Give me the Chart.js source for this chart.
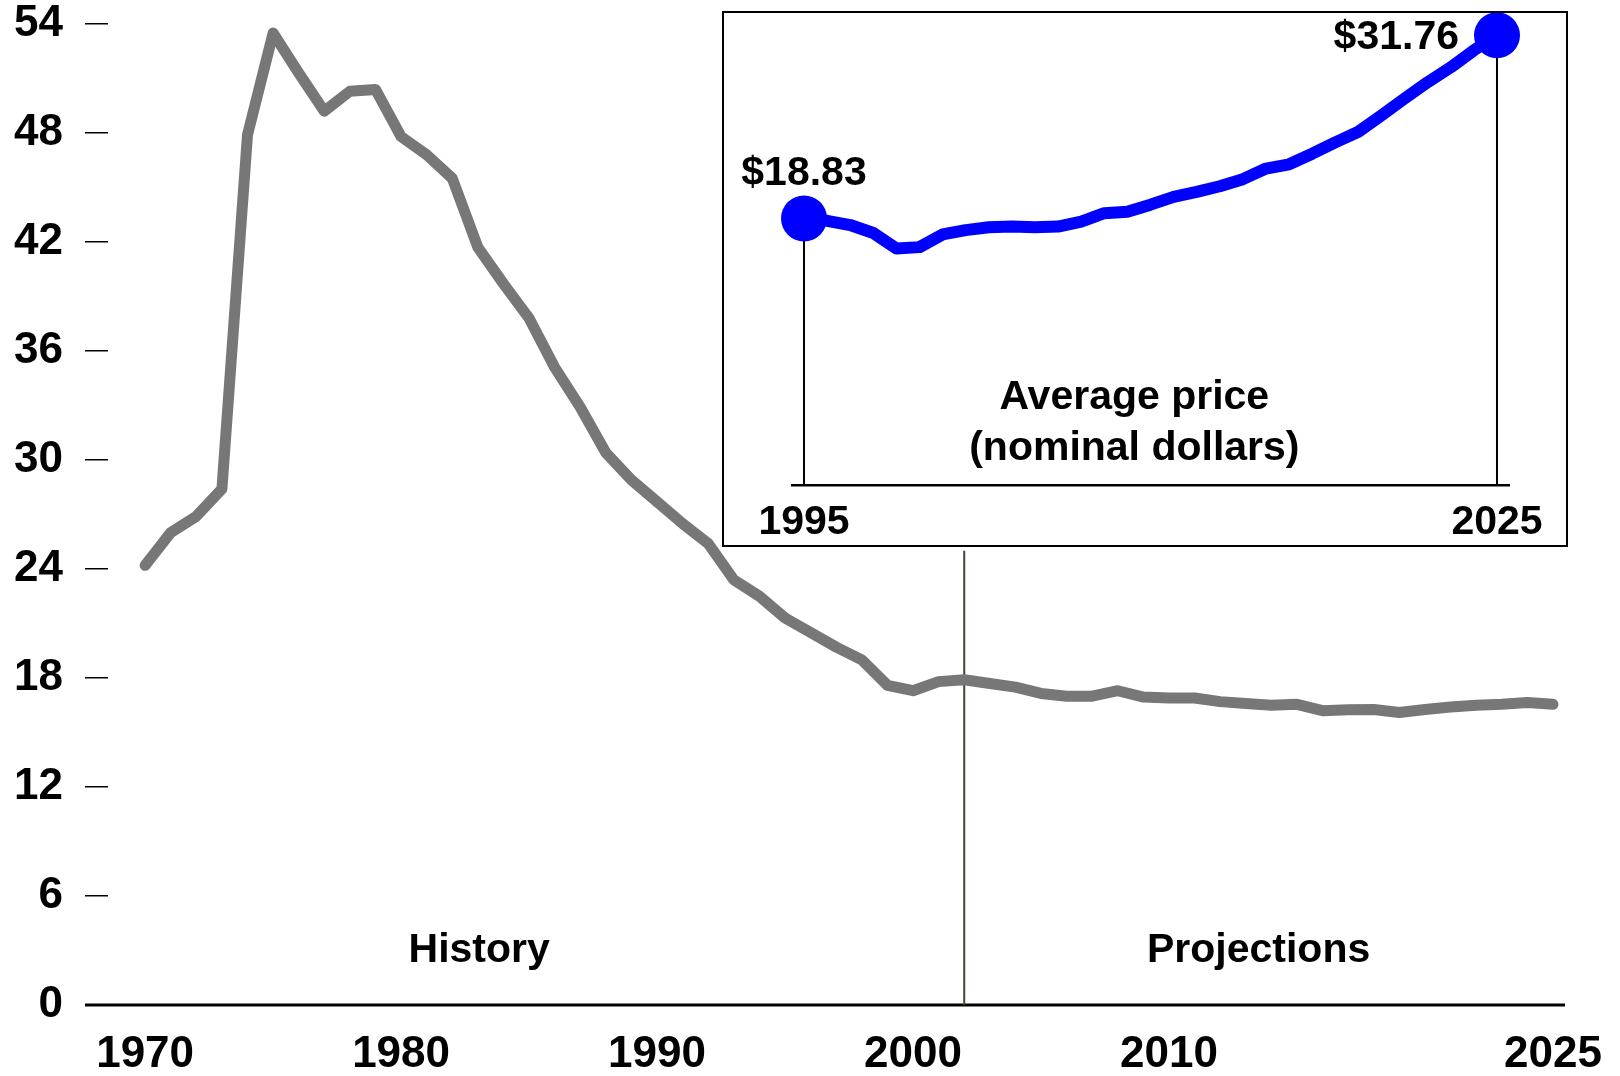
<!DOCTYPE html>
<html>
<head>
<meta charset="utf-8">
<script src="https://cdn.jsdelivr.net/npm/chart.js@4.4.1/dist/chart.umd.min.js"></script>
<style>
    html, body { margin: 0; padding: 0; background: #fff; }
    #wrap { position: relative; width: 1620px; height: 1076px; overflow: hidden; }
    #mainChart { position: absolute; left: 0; top: 0; }
    #insetBox { position: absolute; left: 722px; top: 11px; width: 842px; height: 532px; border: 2px solid #000; background: #fff; }
</style>
</head>
<body>
<div id="wrap">
    <canvas id="mainChart" width="1620" height="1076"></canvas>
    <div id="insetBox"><canvas id="insetChart" width="842" height="532"></canvas></div>
</div>
<script>
// main series: price in constant dollars, history + projections
const years = [1970, 1971, 1972, 1973, 1974, 1975, 1976, 1977, 1978, 1979,
    1980, 1981, 1982, 1983, 1984, 1985, 1986, 1987, 1988, 1989,
    1990, 1991, 1992, 1993, 1994, 1995, 1996, 1997, 1998, 1999,
    2000, 2001, 2002, 2003, 2004, 2005, 2006, 2007, 2008, 2009,
    2010, 2011, 2012, 2013, 2014, 2015, 2016, 2017, 2018, 2019,
    2020, 2021, 2022, 2023, 2024, 2025];
const realPrice = [24.2, 26.0, 26.9, 28.4, 47.9, 53.5, 51.3, 49.2, 50.3, 50.4,
    47.8, 46.8, 45.5, 41.7, 39.7, 37.8, 35.1, 32.9, 30.4, 28.9,
    27.7, 26.5, 25.4, 23.4, 22.5, 21.3, 20.5, 19.7, 19.0, 17.6,
    17.3, 17.8, 17.9, 17.7, 17.5, 17.15, 17.0, 17.0, 17.3, 16.95,
    16.9, 16.9, 16.7, 16.6, 16.5, 16.55, 16.2, 16.25, 16.27, 16.1,
    16.27, 16.4, 16.5, 16.55, 16.65, 16.55];

// inset series: average price in nominal dollars
const insetYears = [1995, 1996, 1997, 1998, 1999, 2000, 2001, 2002, 2003, 2004,
    2005, 2006, 2007, 2008, 2009, 2010, 2011, 2012, 2013, 2014,
    2015, 2016, 2017, 2018, 2019, 2020, 2021, 2022, 2023, 2024, 2025];
const nominalPrice = [18.83, 18.66, 18.36, 17.8, 16.7, 16.8, 17.7, 18.0, 18.2, 18.25,
    18.2, 18.25, 18.6, 19.2, 19.3, 19.8, 20.35, 20.7, 21.1, 21.6,
    22.35, 22.65, 23.4, 24.2, 24.95, 26.1, 27.3, 28.45, 29.5, 30.7, 31.76];

const yTicks = [0, 6, 12, 18, 24, 30, 36, 42, 48, 54];
const xTickYears = [1970, 1980, 1990, 2000, 2010, 2025];
const insetTickYears = [1995, 2025];
const splitYear = 2002;
const regionLabels = ['History', 'Projections'];
const insetTitle = ['Average price', '(nominal dollars)'];

const FONT = "'Liberation Sans', Arial, sans-serif";

function boldFont(size) {
    return `bold ${size}px ${FONT}`;
}

const mainDecor = {
    id: 'mainDecor',
    beforeDatasetsDraw(chart) {
        const { ctx, chartArea, scales } = chart;
        const x = scales.x, y = scales.y;
        const y0 = y.getPixelForValue(0);
        ctx.save();
        // baseline
        ctx.strokeStyle = '#000';
        ctx.lineWidth = 3;
        ctx.beginPath();
        ctx.moveTo(chartArea.left - 23, y0);
        ctx.lineTo(chartArea.right, y0);
        ctx.stroke();
        // history / projections divider
        const xs = x.getPixelForValue(splitYear);
        ctx.strokeStyle = '#3e4838';
        ctx.lineWidth = 2;
        ctx.beginPath();
        ctx.moveTo(xs, y.getPixelForValue(25));
        ctx.lineTo(xs, y0);
        ctx.stroke();
        ctx.restore();
    },
    afterDraw(chart) {
        const { ctx, scales } = chart;
        const x = scales.x, y = scales.y;
        ctx.save();
        ctx.fillStyle = '#000';
        ctx.font = boldFont(41);
        ctx.textAlign = 'center';
        ctx.textBaseline = 'middle';
        ctx.fillText(regionLabels[0], x.getPixelForValue(1983.05), y.getPixelForValue(3.0));
        ctx.fillText(regionLabels[1], x.getPixelForValue(2013.5), y.getPixelForValue(3.0));
        ctx.restore();
    }
};

new Chart(document.getElementById('mainChart').getContext('2d'), {
    type: 'line',
    data: {
        datasets: [{
            data: years.map((yr, i) => ({ x: yr, y: realPrice[i] })),
            borderColor: '#777777',
            borderWidth: 11,
            borderCapStyle: 'round',
            borderJoinStyle: 'round',
            pointRadius: 0,
            tension: 0,
            fill: false
        }]
    },
    options: {
        responsive: false,
        animation: false,
        layout: { autoPadding: false, padding: { top: 24, right: 55, left: 0, bottom: 0 } },
        plugins: { legend: { display: false }, tooltip: { enabled: false } },
        scales: {
            x: {
                type: 'linear',
                min: 1968.55,
                max: 2025.47,
                afterBuildTicks: (s) => { s.ticks = xTickYears.map(v => ({ value: v })); },
                afterFit: (s) => { s.height = 71; s.paddingLeft = 0; s.paddingRight = 0; },
                grid: { display: false, drawTicks: false },
                border: { display: false },
                ticks: {
                    color: '#000',
                    font: { family: FONT, size: 44, weight: 'bold' },
                    padding: 23,
                    maxRotation: 0,
                    autoSkip: false,
                    callback: (v) => String(v)
                }
            },
            y: {
                min: 0,
                max: 54,
                afterBuildTicks: (s) => { s.ticks = yTicks.map(v => ({ value: v })); },
                afterFit: (s) => { s.width = 108; s.paddingTop = 0; s.paddingBottom = 0; },
                grid: { drawOnChartArea: false, drawTicks: true, tickLength: 23, color: '#000', lineWidth: 1.5 },
                border: { display: false },
                ticks: {
                    color: '#000',
                    font: { family: FONT, size: 44, weight: 'bold', lineHeight: 1 },
                    padding: 22,
                    callback: (v) => String(v)
                }
            }
        }
    },
    plugins: [mainDecor]
});

const insetDecor = {
    id: 'insetDecor',
    afterDatasetsDraw(chart) {
        const { ctx, scales } = chart;
        const pts = chart.getDatasetMeta(0).data;
        const first = pts[0], last = pts[pts.length - 1];
        ctx.save();
        ctx.fillStyle = '#000';
        ctx.font = boldFont(41);
        ctx.textBaseline = 'middle';
        ctx.textAlign = 'center';
        ctx.fillText('$' + nominalPrice[0].toFixed(2), first.x, first.y - 45);
        ctx.textAlign = 'right';
        ctx.fillText('$' + nominalPrice[nominalPrice.length - 1].toFixed(2), last.x - 38, last.y + 2);
        ctx.textAlign = 'center';
        const cx = scales.x.getPixelForValue(2009.3);
        ctx.fillText(insetTitle[0], cx, scales.y.getPixelForValue(6.15));
        ctx.fillText(insetTitle[1], cx, scales.y.getPixelForValue(2.55));
        ctx.restore();
    }
};

const lastIdx = insetYears.length - 1;

new Chart(document.getElementById('insetChart').getContext('2d'), {
    type: 'line',
    data: {
        datasets: [{
            data: insetYears.map((yr, i) => ({ x: yr, y: nominalPrice[i] })),
            borderColor: '#0000ff',
            borderWidth: 12,
            borderJoinStyle: 'round',
            pointRadius: (c) => (c.dataIndex === 0 || c.dataIndex === lastIdx) ? 23 : 0,
            pointBackgroundColor: '#0000ff',
            pointBorderWidth: 0,
            clip: false,
            tension: 0,
            fill: false
        }, {
            data: [{ x: insetYears[0], y: nominalPrice[0] }, { x: insetYears[0], y: 0 }],
            borderColor: '#000',
            borderWidth: 2,
            pointRadius: 0,
            fill: false
        }, {
            data: [{ x: insetYears[lastIdx], y: nominalPrice[lastIdx] }, { x: insetYears[lastIdx], y: 0 }],
            borderColor: '#000',
            borderWidth: 2,
            pointRadius: 0,
            fill: false
        }]
    },
    options: {
        responsive: false,
        animation: false,
        layout: { autoPadding: false, padding: { top: 9, right: 57, left: 68, bottom: 0 } },
        plugins: { legend: { display: false }, tooltip: { enabled: false } },
        scales: {
            x: {
                type: 'linear',
                min: 1994.48,
                max: 2025.52,
                afterBuildTicks: (s) => { s.ticks = insetTickYears.map(v => ({ value: v })); },
                afterFit: (s) => { s.height = 60; s.paddingLeft = 0; s.paddingRight = 0; },
                grid: { display: false, drawTicks: false },
                border: { display: true, color: '#000', width: 2.5 },
                ticks: {
                    color: '#000',
                    font: { family: FONT, size: 41, weight: 'bold' },
                    padding: 13,
                    maxRotation: 0,
                    autoSkip: false,
                    callback: (v) => String(v)
                }
            },
            y: {
                display: false,
                min: 0,
                max: 32.7
            }
        }
    },
    plugins: [insetDecor]
});
</script>
</body>
</html>
